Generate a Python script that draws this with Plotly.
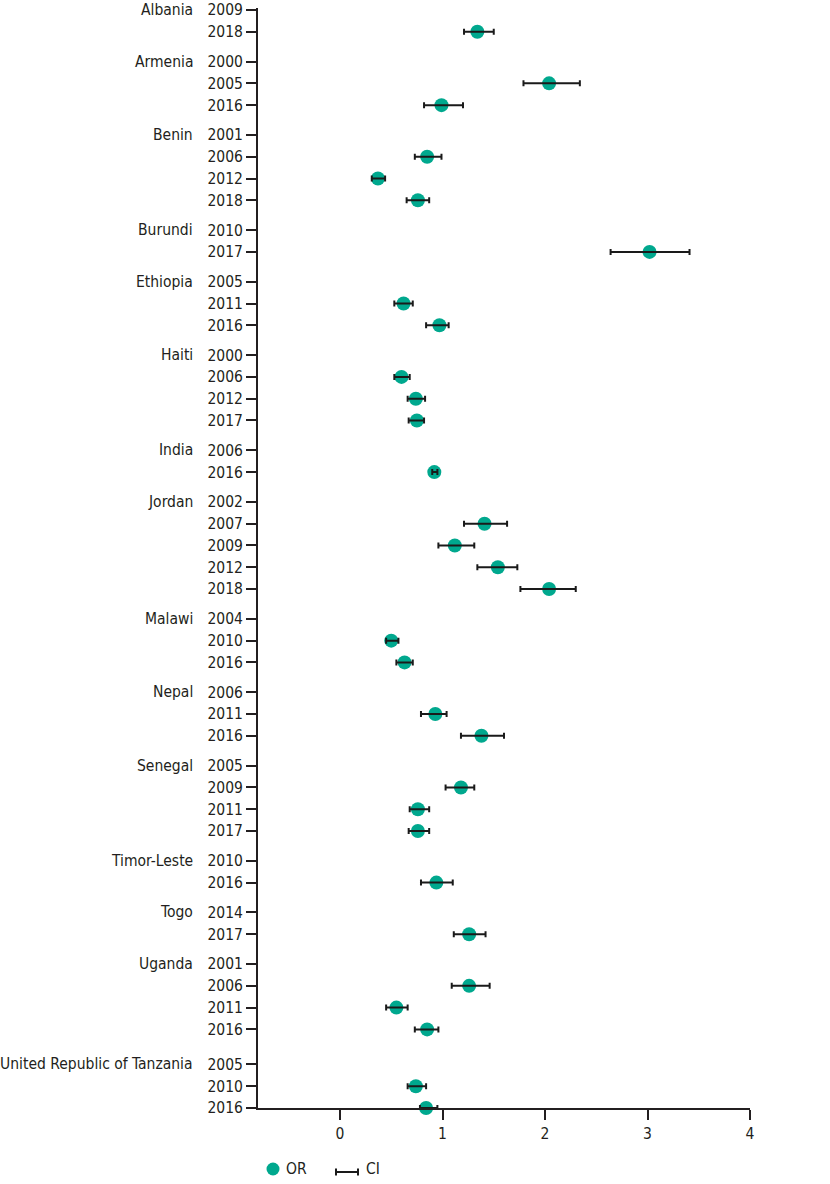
import plotly.graph_objects as go

# ---- data ----
countries = ["Albania", "Armenia", "Benin", "Burundi", "Ethiopia", "Haiti", "India",
             "Jordan", "Malawi", "Nepal", "Senegal", "Timor-Leste", "Togo", "Uganda",
             "United Republic of Tanzania"]
years = [
    ["2009", "2018"],
    ["2000", "2005", "2016"],
    ["2001", "2006", "2012", "2018"],
    ["2010", "2017"],
    ["2005", "2011", "2016"],
    ["2000", "2006", "2012", "2017"],
    ["2006", "2016"],
    ["2002", "2007", "2009", "2012", "2018"],
    ["2004", "2010", "2016"],
    ["2006", "2011", "2016"],
    ["2005", "2009", "2011", "2017"],
    ["2010", "2016"],
    ["2014", "2017"],
    ["2001", "2006", "2011", "2016"],
    ["2005", "2010", "2016"],
]
odds_ratio = [
    [None, 1.34],
    [None, 2.04, 0.99],
    [None, 0.85, 0.37, 0.76],
    [None, 3.02],
    [None, 0.62, 0.97],
    [None, 0.60, 0.74, 0.75],
    [None, 0.92],
    [None, 1.41, 1.12, 1.54, 2.04],
    [None, 0.50, 0.63],
    [None, 0.93, 1.38],
    [None, 1.18, 0.76, 0.76],
    [None, 0.94],
    [None, 1.26],
    [None, 1.26, 0.55, 0.85],
    [None, 0.74, 0.84],
]
ci_low = [
    [None, 1.21],
    [None, 1.79, 0.82],
    [None, 0.73, 0.31, 0.65],
    [None, 2.64],
    [None, 0.53, 0.84],
    [None, 0.53, 0.66, 0.67],
    [None, 0.90],
    [None, 1.21, 0.96, 1.34, 1.76],
    [None, 0.45, 0.55],
    [None, 0.79, 1.18],
    [None, 1.03, 0.68, 0.67],
    [None, 0.79],
    [None, 1.11],
    [None, 1.09, 0.45, 0.73],
    [None, 0.66, 0.78],
]
ci_high = [
    [None, 1.50],
    [None, 2.34, 1.20],
    [None, 0.99, 0.44, 0.87],
    [None, 3.41],
    [None, 0.71, 1.06],
    [None, 0.68, 0.83, 0.82],
    [None, 0.95],
    [None, 1.63, 1.31, 1.73, 2.30],
    [None, 0.57, 0.71],
    [None, 1.04, 1.60],
    [None, 1.31, 0.87, 0.87],
    [None, 1.10],
    [None, 1.42],
    [None, 1.46, 0.66, 0.96],
    [None, 0.84, 0.95],
]
x_ticks = [0, 1, 2, 3, 4]

# ---- layout helpers (row positions) ----
GAP = 0.37
GAP_LAST = 0.61
ypos, ylab, xs, lo_err, hi_err, group_first = [], [], [], [], [], []
cur = 0.0
for gi, (c, yrs) in enumerate(zip(countries, years)):
    if gi > 0:
        cur += 1 + (GAP_LAST if gi == len(countries) - 1 else GAP)
    for ri, yr in enumerate(yrs):
        if ri > 0:
            cur += 1
        if ri == 0:
            group_first.append(cur)
        ypos.append(cur)
        ylab.append(yr)
        o = odds_ratio[gi][ri]
        xs.append(o)
        lo_err.append(None if o is None else o - ci_low[gi][ri])
        hi_err.append(None if o is None else ci_high[gi][ri] - o)

FONT = "DejaVu Sans Condensed, Liberation Sans Narrow, sans-serif"
FS = 15.5
TEAL = "#00a88e"
INK = "#231f20"

fig = go.Figure()
fig.add_trace(go.Scatter(
    x=xs, y=ypos, mode="markers", cliponaxis=False, showlegend=False,
    marker=dict(color=TEAL, size=14, line=dict(width=0)),
    hoverinfo="skip"))
fig.add_trace(go.Scatter(
    x=xs, y=ypos, mode="markers", cliponaxis=False, showlegend=False,
    marker=dict(color="rgba(0,0,0,0)", size=1),
    error_x=dict(type="data", symmetric=False, array=hi_err, arrayminus=lo_err,
                 color="#1a1a1a", thickness=2, width=3),
    hoverinfo="skip"))

# plot area spans page x 258..750, y 8..1108 (body margin removed below)
ML, MT, PW, PH = 258, 8, 492, 1100
W, H = 830, 1184
ymax = ypos[-1]
fig.update_layout(
    template="none",
    width=W, height=H,
    margin=dict(l=ML, r=W - ML - PW, t=MT, b=H - MT - PH),
    paper_bgcolor="white", plot_bgcolor="white",
    font=dict(family=FONT, size=FS, color=INK),
    showlegend=False,
    xaxis=dict(range=[-0.8, 4], tickvals=x_ticks, ticktext=[str(v) for v in x_ticks],
               automargin=False,
               showgrid=False, zeroline=False, showline=True, linecolor=INK, linewidth=2,
               ticks="outside", ticklen=10, tickwidth=2, tickcolor=INK,
               tickfont=dict(family=FONT, size=FS, color=INK)),
    yaxis=dict(range=[ymax, -0.09], tickvals=ypos, ticktext=ylab,
               automargin=False,
               showgrid=False, zeroline=False, showline=True, linecolor=INK, linewidth=2,
               ticks="outside", ticklen=10, tickwidth=2, tickcolor=INK,
               tickfont=dict(family=FONT, size=FS, color=INK)),
)

# positions below are given in page pixels, converted to paper coordinates
px0, py_bottom = ML, MT + PH
lx = lambda px: (px - px0) / PW
ly = lambda py: (py_bottom - py) / PH

# country labels
for c, yv in zip(countries, group_first):
    fig.add_annotation(text=c, xref="paper", yref="y", x=lx(195), y=yv,
                       xanchor="right", yanchor="middle", showarrow=False,
                       font=dict(family=FONT, size=FS, color=INK))

# legend (drawn manually)
fig.add_shape(type="circle", xref="paper", yref="paper", xsizemode="pixel", ysizemode="pixel",
              xanchor=lx(273), yanchor=ly(1169), x0=-6.5, x1=6.5, y0=-6.5, y1=6.5,
              fillcolor=TEAL, line=dict(width=0))
fig.add_annotation(text="OR", xref="paper", yref="paper", x=lx(284), y=ly(1169), xanchor="left",
                   yanchor="middle", showarrow=False, font=dict(family=FONT, size=FS, color=INK))
for (a, b, c0, c1) in [(-11, 11, 0, 0), (-11, -11, -3.5, 3.5), (11, 11, -3.5, 3.5)]:
    fig.add_shape(type="line", xref="paper", yref="paper", xsizemode="pixel", ysizemode="pixel",
                  xanchor=lx(347), yanchor=ly(1172), x0=a, x1=b, y0=c0, y1=c1,
                  line=dict(color="#1a1a1a", width=2))
fig.add_annotation(text="CI", xref="paper", yref="paper", x=lx(364), y=ly(1169), xanchor="left",
                   yanchor="middle", showarrow=False, font=dict(family=FONT, size=FS, color=INK))

fig.write_html("out.html", config={"displayModeBar": False},
               post_script="document.body.style.margin='0';document.body.style.overflow='hidden';")
